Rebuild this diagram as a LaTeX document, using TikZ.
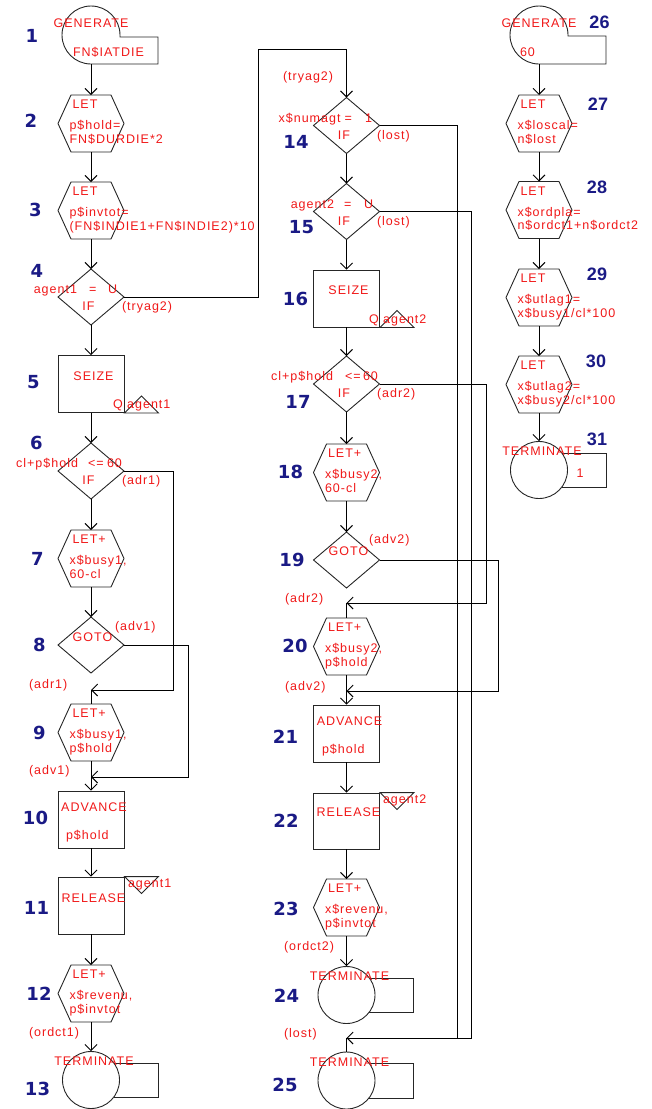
\documentclass[tikz,border=0pt]{standalone}
\usepackage{fontspec}
\usetikzlibrary{arrows.meta}
\newfontfamily\rf[LetterSpace=8]{Liberation Sans}
\newfontfamily\nf{DejaVu Sans}
\newfontfamily\nfc{Liberation Sans}
\definecolor{gred}{HTML}{F01818}
\definecolor{gnavy}{HTML}{1A1A85}
\tikzset{
  shp/.style={draw=black!85, line width=0.9pt},
  con/.style={draw=black, line width=0.9pt},
  arr/.style={con, -{Straight Barb[length=6pt,width=12pt]}},
  ghost/.style={inner sep=0pt, outer sep=0pt, draw=none},
  rt/.style={text=gred, font=\rf\fontsize{12.5}{14}\selectfont, inner sep=0pt, outer sep=0pt},
  num/.style={text=gnavy, font=\nf\bfseries\fontsize{18}{20}\selectfont, inner sep=0pt, anchor=base},
  numc/.style={text=gnavy, font=\nfc\bfseries\fontsize{18}{20}\selectfont, inner sep=0pt, anchor=base},
  boxx/.style={shp, minimum width=66pt, minimum height=57pt, inner sep=0pt},
}
\newcommand\hexa[6]{%
  \node[ghost,minimum width=66pt,minimum height=57pt] (#1) at (#2,#3) {};
  \draw[shp] (#1.west) -- ([xshift=13pt]#1.north west) -- ([xshift=-13pt]#1.north east) -- (#1.east) -- ([xshift=-13pt]#1.south east) -- ([xshift=13pt]#1.south west) -- cycle;
  \node[rt,anchor=base west] (#1a) at (#2-18.5,#3-15) {#4};
  \node[rt,anchor=base west] (#1b) at (#2-21.5,#3+6) {#5};
  \node[rt,anchor=base west] (#1c) at (#2-21.5,#3+19.5) {#6};
}
\newcommand\dia[3]{%
  \node[ghost,minimum width=66pt,minimum height=56pt] (#1) at (#2,#3) {};
  \draw[shp] (#1.west) -- (#1.north) -- (#1.east) -- (#1.south) -- cycle;
}
\newcommand\term[3]{%
  \node[shp,circle,minimum size=57pt,inner sep=0pt] (#1) at (#2,#3) {};
  \draw[shp] (#1.36) -- ++(44,0) |- (#1.-38);
  \node[rt,anchor=base] (#1t) at (#2+3,#3-14.5) {TERMINATE};
}
\begin{document}
\begin{tikzpicture}[x=1pt,y=-1pt]
\useasboundingbox (0,0) rectangle (651,1109);

% ---------------- column 1 ----------------
\node[ghost,circle,minimum size=58pt] (n1) at (91,35) {};
\draw[shp] (91,64) .. controls (75,64) and (62,51) .. (62,35) .. controls (62,19) and (75,6) .. (91,6) .. controls (107,6) and (120,19) .. (120,35) -- (120,37) -- (158,37) -- (158,64) -- cycle;
\node[rt,anchor=base] (n1a) at (91,27.5) {GENERATE};
\node[rt,anchor=base west] (n1b) at (73,56.5) {FN\$IATDIE};

\hexa{n2}{91}{123.5}{LET}{p\$hold=}{FN\$DURDIE*2}
\hexa{n3}{91}{210.5}{LET}{p\$invtot=}{(FN\$INDIE1+FN\$INDIE2)*10}

\dia{n4}{91}{297}
\node[rt,anchor=base east] (n4l) at (77,293.5) {agent1};
\node[rt,anchor=base west] (n4o) at (89,293.5) {=};
\node[rt,anchor=base west] (n4r) at (108,293.5) {U};
\node[rt,anchor=base] (n4i) at (88.5,310.5) {IF};
\node[rt,anchor=base west] (n4x) at (122,310.5) {(tryag2)};

\node[boxx] (n5) at (91,384) {};
\draw[shp] (n5.south east) -- ++(17,-17) -- ++(17,17) -- cycle;
\node[rt,anchor=base] (n5a) at (93.5,380.5) {SEIZE};
\node[rt,anchor=base west] (n5b) at (113,408.5) {Q agent1};

\dia{n6}{91}{471}
\node[rt,anchor=base east] (n6l) at (78,467.5) {cl+p\$hold};
\node[rt,anchor=base west] (n6o) at (88,467.5) {<=};
\node[rt,anchor=base west] (n6r) at (107,467.5) {60};
\node[rt,anchor=base] (n6i) at (88.5,484.5) {IF};
\node[rt,anchor=base west] (n6x) at (122,484.5) {(adr1)};

\hexa{n7}{91}{558.5}{LET+}{x\$busy1,}{60-cl}

\dia{n8}{91}{645}
\node[rt,anchor=base] (n8a) at (92.5,641.5) {GOTO};
\node[rt,anchor=base west] (n8x) at (115,630.5) {(adv1)};

\node[rt,anchor=base west] (l9a) at (29,688.5) {(adr1)};
\hexa{n9}{91}{732.5}{LET+}{x\$busy1,}{p\$hold}
\node[rt,anchor=base west] (l10a) at (29,774.5) {(adv1)};

\node[boxx] (n10) at (91,819.5) {};
\node[rt,anchor=base] (n10a) at (94,811.5) {ADVANCE};
\node[rt,anchor=base west] (n10b) at (66,839.5) {p\$hold};

\node[boxx] (n11) at (91,905.5) {};
\draw[shp] (n11.north east) -- ++(17,17) -- ++(17,-17) -- cycle;
\node[rt,anchor=base] (n11a) at (93.5,902.5) {RELEASE};
\node[rt,anchor=base west] (n11b) at (128,887) {agent1};

\hexa{n12}{91}{993.5}{LET+}{x\$revenu,}{p\$invtot}
\node[rt,anchor=base west] (l13a) at (29,1036.5) {(ordct1)};
\term{n13}{91}{1080}

% ---------------- column 2 ----------------
\node[rt,anchor=base west] (l14a) at (283,80.5) {(tryag2)};
\dia{n14}{346.5}{125.5}
\node[rt,anchor=base east] (n14l) at (340.5,122) {x\$numagt};
\node[rt,anchor=base west] (n14o) at (344.5,122) {=};
\node[rt,anchor=base west] (n14r) at (365,122) {1};
\node[rt,anchor=base] (n14i) at (344,139) {IF};
\node[rt,anchor=base west] (n14x) at (377,139) {(lost)};

\dia{n15}{346.5}{211.5}
\node[rt,anchor=base east] (n15l) at (334,208) {agent2};
\node[rt,anchor=base west] (n15o) at (344,208) {=};
\node[rt,anchor=base west] (n15r) at (364,208) {U};
\node[rt,anchor=base] (n15i) at (344,225.5) {IF};
\node[rt,anchor=base west] (n15x) at (377,225.5) {(lost)};

\node[boxx] (n16) at (346.5,298.5) {};
\draw[shp] (n16.south east) -- ++(17,-17) -- ++(17,17) -- cycle;
\node[rt,anchor=base] (n16a) at (348.5,294.5) {SEIZE};
\node[rt,anchor=base west] (n16b) at (369,323.5) {Q agent2};

\dia{n17}{346.5}{384}
\node[rt,anchor=base east] (n17l) at (333,380.5) {cl+p\$hold};
\node[rt,anchor=base west] (n17o) at (345,380.5) {<=};
\node[rt,anchor=base west] (n17r) at (363,380.5) {60};
\node[rt,anchor=base] (n17i) at (344,397.5) {IF};
\node[rt,anchor=base west] (n17x) at (377,397.5) {(adr2)};

\hexa{n18}{346.5}{472.5}{LET+}{x\$busy2,}{60-cl}

\dia{n19}{346.5}{560}
\node[rt,anchor=base] (n19a) at (348.5,555.5) {GOTO};
\node[rt,anchor=base west] (n19x) at (369,543.5) {(adv2)};

\node[rt,anchor=base west] (l20a) at (285,602.5) {(adr2)};
\hexa{n20}{346.5}{646.5}{LET+}{x\$busy2,}{p\$hold}
\node[rt,anchor=base west] (l21a) at (285,690.5) {(adv2)};

\node[boxx] (n21) at (346.5,733.5) {};
\node[rt,anchor=base] (n21a) at (349.5,725.5) {ADVANCE};
\node[rt,anchor=base west] (n21b) at (322,753.5) {p\$hold};

\node[boxx,minimum height=56pt] (n22) at (346.5,821) {};
\draw[shp] (n22.north east) -- ++(17,17) -- ++(17,-17) -- cycle;
\node[rt,anchor=base] (n22a) at (348.5,816.5) {RELEASE};
\node[rt,anchor=base west] (n22b) at (383,803) {agent2};

\hexa{n23}{346.5}{907.5}{LET+}{x\$revenu,}{p\$invtot}
\node[rt,anchor=base west] (l24a) at (284,950.5) {(ordct2)};
\term{n24}{346.5}{995}
\node[rt,anchor=base west] (l25a) at (284,1037.5) {(lost)};
\term{n25}{346.5}{1080.5}

% ---------------- column 3 ----------------
\node[ghost,circle,minimum size=58pt] (n26) at (539,35) {};
\draw[shp] (539,64) .. controls (523,64) and (510,51) .. (510,35) .. controls (510,19) and (523,6) .. (539,6) .. controls (555,6) and (568,19) .. (568,35) -- (568,36) -- (606,36) -- (606,64) -- cycle;
\node[rt,anchor=base] (n26a) at (539,27.5) {GENERATE};
\node[rt,anchor=base west] (n26b) at (520,56.5) {60};

\hexa{n27}{539}{123.5}{LET}{x\$loscal=}{n\$lost}
\hexa{n28}{539}{210}{LET}{x\$ordpla=}{n\$ordct1+n\$ordct2}
\hexa{n29}{539}{297.5}{LET}{x\$utlag1=}{x\$busy1/cl*100}
\hexa{n30}{539}{384.5}{LET}{x\$utlag2=}{x\$busy2/cl*100}
\term{n31}{539}{470}
\node[rt,anchor=base] (n31b) at (580,477.5) {1};

% ---------------- block numbers ----------------
\node[num] (b1) at (32,42.5) {1};
\node[num] (b2) at (31,127) {2};
\node[num] (b3) at (35.5,216) {3};
\node[num] (b4) at (37,277.5) {4};
\node[num] (b5) at (33.5,388) {5};
\node[num] (b6) at (36.5,449.5) {6};
\node[num] (b7) at (37.5,565.5) {7};
\node[num] (b8) at (39.5,651.5) {8};
\node[num] (b9) at (39.5,739) {9};
\node[num] (b10) at (35.5,824) {10};
\node[num] (b11) at (36.5,914) {11};
\node[num] (b12) at (39,1000) {12};
\node[num] (b13) at (37.5,1095) {13};
\node[num] (b14) at (296,148) {14};
\node[num] (b15) at (301.5,233) {15};
\node[num] (b16) at (295.5,305) {16};
\node[num] (b17) at (298,408) {17};
\node[num] (b18) at (290.5,478.5) {18};
\node[num] (b19) at (292,566.5) {19};
\node[num] (b20) at (295,652.5) {20};
\node[num] (b21) at (285.5,743) {21};
\node[num] (b22) at (286,827.5) {22};
\node[num] (b23) at (286,915) {23};
\node[num] (b24) at (286.5,1002.5) {24};
\node[num] (b25) at (285,1091.5) {25};
\node[numc] (b26) at (599.5,28) {26};
\node[numc] (b27) at (598,110) {27};
\node[numc] (b28) at (597,193) {28};
\node[numc] (b29) at (597,280) {29};
\node[numc] (b30) at (596,367.5) {30};
\node[numc] (b31) at (597,445) {31};

% ---------------- connectors ----------------
\coordinate (j9) at (91,690);
\coordinate (j10) at (91,777);
\coordinate (j20) at (346.5,603);
\coordinate (j21) at (346.5,691);
\coordinate (j25) at (346.5,1038);
\coordinate (j25b) at (457.5,1038);

\draw[arr] (n1.south) -- (n2.north);
\draw[arr] (n2.south) -- (n3.north);
\draw[arr] (n3.south) -- (n4.north);
\draw[arr] (n4.south) -- (n5.north);
\draw[arr] (n5.south) -- (n6.north);
\draw[arr] (n6.south) -- (n7.north);
\draw[arr] (n7.south) -- (n8.north);
\draw[con] (j9) -- (n9.north);
\draw[arr] (n9.south) -- (n10.north);
\draw[arr] (n10.south) -- (n11.north);
\draw[arr] (n11.south) -- (n12.north);
\draw[arr] (n12.south) -- (n13.north);

\draw[arr] (n4.east) -- ++(134,0) -- ++(0,-248) -| (n14.north);
\draw[arr] (n6.east) -- ++(49,0) |- (j9);
\draw[arr] (n8.east) -- ++(64,0) |- (j10);

\draw[arr] (n14.south) -- (n15.north);
\draw[arr] (n15.south) -- (n16.north);
\draw[arr] (n16.south) -- (n17.north);
\draw[arr] (n17.south) -- (n18.north);
\draw[arr] (n18.south) -- (n19.north);
\draw[con] (j20) -- (n20.north);
\draw[arr] (n20.south) -- (n21.north);
\draw[arr] (n21.south) -- (n22.north);
\draw[arr] (n22.south) -- (n23.north);
\draw[arr] (n23.south) -- (n24.north);
\draw[con] (j25) -- (n25.north);

\draw[arr] (n14.east) -- ++(78,0) |- (j25);
\draw[con] (n15.east) -- ++(91.5,0) |- (j25b);
\draw[arr] (n17.east) -- ++(106.5,0) |- (j20);
\draw[arr] (n19.east) -- ++(118.5,0) |- (j21);

\draw[arr] (n26.south) -- (n27.north);
\draw[arr] (n27.south) -- (n28.north);
\draw[arr] (n28.south) -- (n29.north);
\draw[arr] (n29.south) -- (n30.north);
\draw[arr] (n30.south) -- (n31.north);
\end{tikzpicture}
\end{document}
